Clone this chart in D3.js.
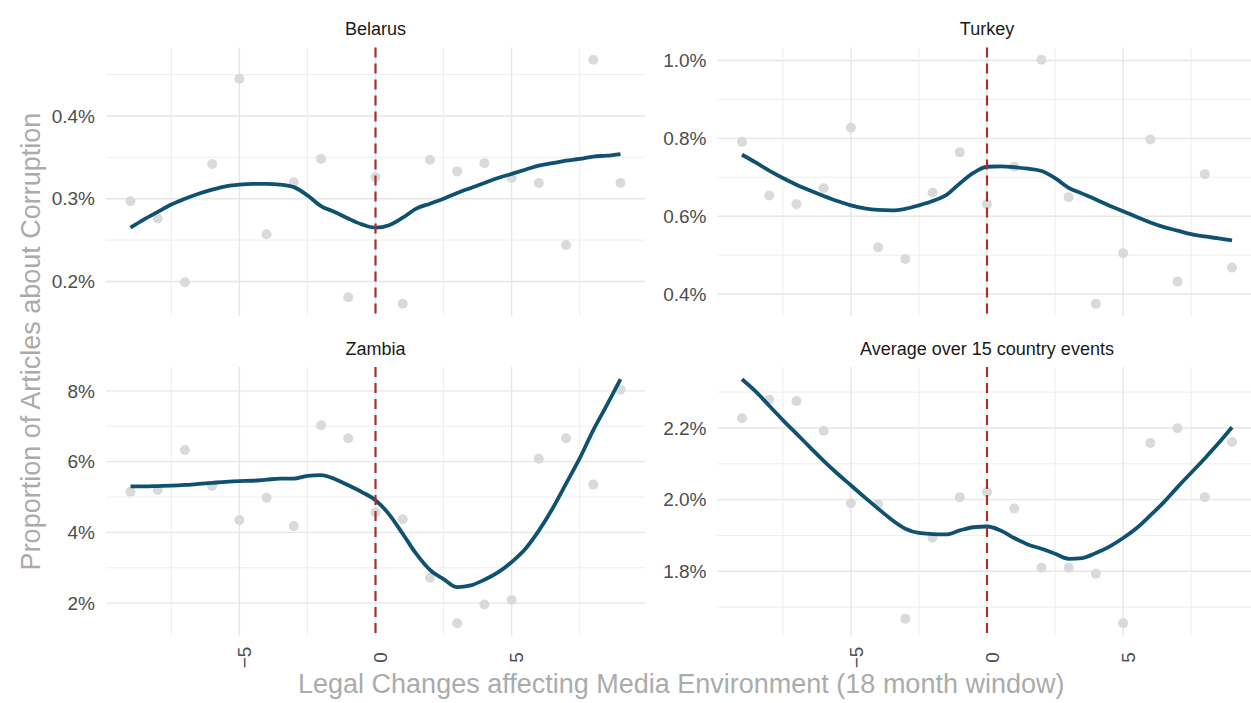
<!DOCTYPE html>
<html>
<head>
<meta charset="utf-8">
<script src="https://cdn.jsdelivr.net/npm/d3@7"></script>
<style>
  body { margin: 0; background: #fff; }
  svg { display: block; font-family: "Liberation Sans", Arial, sans-serif; }
</style>
</head>
<body>
<div id="chart"></div>
<script>
// months relative to the legal change
const months = [-9, -8, -7, -6, -5, -4, -3, -2, -1, 0, 1, 2, 3, 4, 5, 6, 7, 8, 9];
const smoothMonths = [-9, -8.5, -8, -7.5, -7, -6.5, -6, -5.5, -5, -4.5, -4, -3.5, -3, -2.5, -2, -1.5, -1, -0.5,
  0, 0.5, 1, 1.5, 2, 2.5, 3, 3.5, 4, 4.5, 5, 5.5, 6, 6.5, 7, 7.5, 8, 8.5, 9];

// share of articles about corruption (%)
const belarusPoints = [0.297, 0.276, 0.199, 0.342, 0.445, 0.257, 0.320, 0.348, 0.181, 0.326,
  0.173, 0.347, 0.333, 0.343, 0.325, 0.319, 0.244, 0.468, 0.319];
const belarusSmooth = [0.265, 0.275, 0.284, 0.293, 0.300, 0.306, 0.311, 0.315, 0.317, 0.318, 0.318, 0.317,
  0.314, 0.304, 0.291, 0.284, 0.276, 0.269, 0.265, 0.268, 0.277, 0.288, 0.294, 0.300, 0.307, 0.313,
  0.319, 0.325, 0.330, 0.335, 0.340, 0.343, 0.346, 0.348, 0.351, 0.352, 0.354];

const turkeyPoints = [0.791, 0.653, 0.631, 0.672, 0.827, 0.520, 0.490, 0.661, 0.764, 0.631,
  0.727, 1.002, 0.649, 0.375, 0.505, 0.797, 0.432, 0.708, 0.468];
const turkeySmooth = [0.758, 0.738, 0.717, 0.698, 0.681, 0.666, 0.652, 0.639, 0.628, 0.620, 0.616, 0.615,
  0.619, 0.628, 0.639, 0.654, 0.684, 0.711, 0.727, 0.728, 0.726, 0.722, 0.716, 0.698, 0.673, 0.658,
  0.643, 0.627, 0.613, 0.598, 0.584, 0.572, 0.563, 0.554, 0.548, 0.543, 0.538];

const zambiaPoints = [5.15, 5.20, 6.33, 5.31, 4.35, 4.98, 4.18, 7.03, 6.66, 4.57,
  4.37, 2.72, 1.43, 1.96, 2.09, 6.08, 6.66, 5.35, 8.03];
const zambiaSmooth = [5.30, 5.30, 5.31, 5.32, 5.34, 5.37, 5.40, 5.43, 5.45, 5.46, 5.49, 5.52,
  5.52, 5.60, 5.62, 5.51, 5.33, 5.14, 4.91, 4.51, 3.96, 3.39, 2.94, 2.68, 2.45, 2.50,
  2.66, 2.87, 3.16, 3.53, 4.05, 4.67, 5.38, 6.09, 6.89, 7.60, 8.33];

const averagePoints = [2.227, 2.279, 2.275, 2.192, 1.990, 1.987, 1.668, 1.894, 2.007, 2.021,
  1.975, 1.810, 1.810, 1.793, 1.655, 2.158, 2.199, 2.007, 2.161];
const averageSmooth = [2.336, 2.302, 2.262, 2.222, 2.184, 2.146, 2.108, 2.073, 2.040, 2.007, 1.975, 1.944,
  1.919, 1.907, 1.904, 1.903, 1.914, 1.923, 1.925, 1.914, 1.893, 1.875, 1.863, 1.849, 1.835, 1.837,
  1.851, 1.869, 1.893, 1.921, 1.956, 1.993, 2.035, 2.075, 2.115, 2.157, 2.202];

// axis breaks and labels
const xMajor = [-5, 0, 5];
const xMinor = [-7.5, -2.5, 2.5, 7.5];
const xLabels = ["\u22125", "0", "5"];

const belarusTicks = [0.2, 0.3, 0.4];
const belarusMinor = [0.15, 0.25, 0.35, 0.45];
const belarusLabels = ["0.2%", "0.3%", "0.4%"];
const turkeyTicks = [0.4, 0.6, 0.8, 1.0];
const turkeyMinor = [0.5, 0.7, 0.9];
const turkeyLabels = ["0.4%", "0.6%", "0.8%", "1.0%"];
const zambiaTicks = [2, 4, 6, 8];
const zambiaMinor = [1, 3, 5, 7];
const zambiaLabels = ["2%", "4%", "6%", "8%"];
const averageTicks = [1.8, 2.0, 2.2];
const averageMinor = [1.7, 1.9, 2.1, 2.3];
const averageLabels = ["1.8%", "2.0%", "2.2%"];

const panelTitles = ["Belarus", "Turkey", "Zambia", "Average over 15 country events"];

const panels = [
  { title: panelTitles[0], pts: belarusPoints, smooth: belarusSmooth, ticks: belarusTicks, minor: belarusMinor, labels: belarusLabels, col: 0, row: 0 },
  { title: panelTitles[1], pts: turkeyPoints, smooth: turkeySmooth, ticks: turkeyTicks, minor: turkeyMinor, labels: turkeyLabels, col: 1, row: 0 },
  { title: panelTitles[2], pts: zambiaPoints, smooth: zambiaSmooth, ticks: zambiaTicks, minor: zambiaMinor, labels: zambiaLabels, col: 0, row: 1 },
  { title: panelTitles[3], pts: averagePoints, smooth: averageSmooth, ticks: averageTicks, minor: averageMinor, labels: averageLabels, col: 1, row: 1 }
];

const width = 1251, height = 703;
const colX = [106, 717.5], rowY = [47.5, 367];
const panelW = 539, panelH = 268.5;

const svg = d3.select("#chart").append("svg")
  .attr("width", width)
  .attr("height", height);

const x = d3.scaleLinear().domain([-9.9, 9.9]).range([0, panelW]);

const line = d3.line().curve(d3.curveMonotoneX);

panels.forEach(p => {
  const g = svg.append("g")
    .attr("transform", `translate(${colX[p.col]},${rowY[p.row]})`);

  // ggplot style 5% expansion
  const ext = d3.extent(p.pts.concat(p.smooth));
  const pad = (ext[1] - ext[0]) * 0.05;
  const y = d3.scaleLinear().domain([ext[0] - pad, ext[1] + pad]).range([panelH, 0]);
  const inside = v => v >= y.domain()[0] && v <= y.domain()[1];

  // grid
  g.selectAll(".ymin").data(p.minor.filter(inside)).join("line")
    .attr("x1", 0).attr("x2", panelW)
    .attr("y1", d => y(d)).attr("y2", d => y(d))
    .attr("stroke", "#ececec").attr("stroke-width", 0.9);
  g.selectAll(".ymaj").data(p.ticks).join("line")
    .attr("x1", 0).attr("x2", panelW)
    .attr("y1", d => y(d)).attr("y2", d => y(d))
    .attr("stroke", "#e6e6e6").attr("stroke-width", 1.4);
  g.selectAll(".xmin").data(xMinor).join("line")
    .attr("x1", d => x(d)).attr("x2", d => x(d))
    .attr("y1", 0).attr("y2", panelH)
    .attr("stroke", "#ececec").attr("stroke-width", 0.9);
  g.selectAll(".xmaj").data(xMajor).join("line")
    .attr("x1", d => x(d)).attr("x2", d => x(d))
    .attr("y1", 0).attr("y2", panelH)
    .attr("stroke", "#e6e6e6").attr("stroke-width", 1.4);

  // y tick labels
  g.selectAll(".ylab").data(p.ticks).join("text")
    .attr("x", -11)
    .attr("y", d => y(d))
    .attr("dy", "0.35em")
    .attr("text-anchor", "end")
    .attr("font-size", 19)
    .attr("fill", "#4d4d4d")
    .text((d, i) => p.labels[i]);

  // x tick labels (only on bottom row)
  if (p.row === 1) {
    g.selectAll(".xlab").data(xMajor).join("text")
      .attr("transform", d => `translate(${x(d) + 5},${panelH + 22}) rotate(-90)`)
      .attr("dy", "0.35em")
      .attr("text-anchor", "middle")
      .attr("font-size", 19)
      .attr("fill", "#4d4d4d")
      .text((d, i) => xLabels[i]);
  }

  // strip title
  g.append("text")
    .attr("x", panelW / 2)
    .attr("y", -12.5)
    .attr("text-anchor", "middle")
    .attr("font-size", 18)
    .attr("fill", "#1a1a1a")
    .text(p.title);

  // points
  g.selectAll(".pt").data(months).join("circle")
    .attr("cx", d => x(d))
    .attr("cy", (d, i) => y(p.pts[i]))
    .attr("r", 5)
    .attr("fill", "#dadada");

  // smoothed trend
  g.append("path")
    .attr("d", line(smoothMonths.map((m, i) => [x(m), y(p.smooth[i])])))
    .attr("fill", "none")
    .attr("stroke", "#0f5270")
    .attr("stroke-width", 3.8)
    .attr("stroke-linecap", "butt");

  // event marker
  g.append("line")
    .attr("x1", x(0)).attr("x2", x(0))
    .attr("y1", 0).attr("y2", panelH)
    .attr("stroke", "#a8302f")
    .attr("stroke-width", 2.2)
    .attr("stroke-dasharray", "10,6");
});

// axis titles
svg.append("text")
  .attr("x", (colX[0] + colX[1] + panelW) / 2)
  .attr("y", 693)
  .attr("text-anchor", "middle")
  .attr("font-size", 27)
  .attr("fill", "#ababab")
  .text("Legal Changes affecting Media Environment (18 month window)");

svg.append("text")
  .attr("transform", `translate(40,${(rowY[0] + rowY[1] + panelH) / 2}) rotate(-90)`)
  .attr("text-anchor", "middle")
  .attr("font-size", 27)
  .attr("fill", "#ababab")
  .text("Proportion of Articles about Corruption");
</script>
</body>
</html>
